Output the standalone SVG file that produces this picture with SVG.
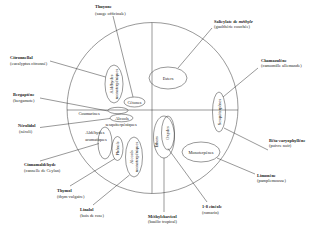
<svg xmlns="http://www.w3.org/2000/svg" width="320" height="227" viewBox="0 0 320 227">
<style>
.s{fill:none;stroke:#333;stroke-width:0.5}
text{font-family:"Liberation Serif","Times New Roman",serif;font-size:4.4px;fill:#222}
.b{font-weight:bold}
.c{text-anchor:middle}
</style>
<rect width="320" height="227" fill="#fff"/>
<g id="frame">
<circle class="s" cx="152.5" cy="108" r="85.5"/>
<line class="s" x1="152" y1="22.5" x2="152" y2="193.5"/>
<line class="s" x1="67" y1="110" x2="238" y2="110"/>
</g>
<g id="connectors">
<line class="s" x1="113" y1="16" x2="133" y2="97"/>
<line class="s" x1="50" y1="61" x2="105.6" y2="77"/>
<line class="s" x1="40" y1="98" x2="108" y2="111"/>
<line class="s" x1="40" y1="127.5" x2="110" y2="118.5"/>
<line class="s" x1="40" y1="161" x2="99" y2="143.5"/>
<line class="s" x1="70" y1="186" x2="115" y2="158.5"/>
<line class="s" x1="93" y1="205" x2="129.5" y2="175"/>
<line class="s" x1="164" y1="158" x2="164" y2="212"/>
<line class="s" x1="168" y1="148.5" x2="207" y2="202"/>
<line class="s" x1="255" y1="174" x2="217" y2="158"/>
<line class="s" x1="268" y1="150" x2="224" y2="128"/>
<line class="s" x1="258" y1="68" x2="223" y2="97"/>
<line class="s" x1="212" y1="28" x2="178" y2="68"/>
</g>
<g id="esters">
<ellipse class="s" cx="168" cy="78" rx="19" ry="11"/>
<text class="c" x="168" y="79.5">Esters</text>
</g>
<g id="cetones">
<ellipse class="s" cx="134.5" cy="102" rx="10.5" ry="5"/>
<text class="c" x="134.5" y="103.5">Cétones</text>
</g>
<g id="aldehydes-mono">
<ellipse class="s" cx="114" cy="84" rx="9" ry="19"/>
<text class="c" transform="translate(112.5,84) rotate(-90)">Aldéhydes</text>
<text class="c" transform="translate(117.8,84) rotate(-90)">monoterpéniques</text>
</g>
<g id="coumarines">
<ellipse class="s" cx="118" cy="110.5" rx="10" ry="3.2"/>
<text class="c" x="89" y="114.5">Coumarines</text>
</g>
<g id="alcools-sesqui">
<ellipse class="s" cx="121.5" cy="118" rx="11.5" ry="3.8"/>
<text class="c" x="122" y="119.5">Alcools</text>
<text class="c" x="121" y="125.5">sesquiterpéniques</text>
</g>
<g id="aldehydes-aro">
<ellipse class="s" cx="105" cy="143" rx="7" ry="16"/>
<text class="c" x="95" y="134.2">Aldéhydes</text>
<text class="c" x="96" y="140.5">aromatiques</text>
</g>
<g id="phenols">
<ellipse class="s" cx="117.5" cy="148.5" rx="5.5" ry="12"/>
<text class="c" transform="translate(119,148.5) rotate(-90)">Phénols</text>
</g>
<g id="alcools-mono">
<ellipse class="s" cx="134" cy="157" rx="8.5" ry="20"/>
<text class="c" transform="translate(132.5,157) rotate(-90)">Alcools</text>
<text class="c" transform="translate(137.8,157) rotate(-90)">monoterpéniques</text>
</g>
<g id="ethers">
<ellipse class="s" cx="164" cy="137" rx="10.5" ry="21"/>
<text class="c" transform="translate(158.3,142) rotate(-90)">Éthers</text>
</g>
<g id="oxydes">
<ellipse class="s" cx="168" cy="133" rx="6.5" ry="17"/>
<text class="c" transform="translate(169.3,133) rotate(-90)">Oxydes</text>
</g>
<g id="monoterpenes">
<ellipse class="s" cx="201" cy="152" rx="19" ry="10"/>
<text class="c" x="201" y="153.5">Monoterpènes</text>
</g>
<g id="sesquiterpenes">
<ellipse class="s" cx="219" cy="112" rx="6.5" ry="20"/>
<text class="c" transform="translate(220.5,112) rotate(-90)">Sesquiterpènes</text>
</g>
<g id="thuyone"><text class="b" x="95" y="8">Thuyone</text><text x="95" y="14.5">(sauge officinale)</text></g>
<g id="citronnellal"><text class="b" x="10" y="58.5">Citronnellal</text><text x="10" y="64.5">(eucalyptus citronné)</text></g>
<g id="bergaptene"><text class="b" x="13" y="95.8">Bergaptène</text><text x="13" y="101.5">(bergamote)</text></g>
<g id="nerolidol"><text class="b" x="18" y="126.5">Nérolidol</text><text x="19" y="132.5">(néroli)</text></g>
<g id="cinnamaldehyde"><text class="b" x="24" y="165.5">Cinnamaldéhyde</text><text x="24" y="171.5">(cannelle de Ceylan)</text></g>
<g id="thymol"><text class="b" x="57" y="191.5">Thymol</text><text x="57" y="197.5">(thym vulgaire)</text></g>
<g id="linalol"><text class="b" x="80" y="210.8">Linalol</text><text x="80" y="216.5">(bois de rose)</text></g>
<g id="methylchavicol"><text class="b" x="148" y="217.5">Méthylchavicol</text><text x="148" y="223.2">(basilic tropical)</text></g>
<g id="cineole"><text class="b" x="202" y="208">1-8 cinéole</text><text x="202" y="214">(romarin)</text></g>
<g id="limonene"><text class="b" x="257" y="176.5">Limonène</text><text x="257" y="182">(pamplemousse)</text></g>
<g id="caryophyllene"><text class="b" x="269" y="141.5">Bêta-caryophyllène</text><text x="269" y="147">(poivre noir)</text></g>
<g id="chamazulene"><text class="b" x="261" y="61.5">Chamazulène</text><text x="261" y="67">(camomille allemande)</text></g>
<g id="salicylate"><text class="b" x="214" y="22.5">Salicylate de <tspan font-style="italic">méthyle</tspan></text><text x="214" y="28">(gaulthérie couchée)</text></g>
</svg>
